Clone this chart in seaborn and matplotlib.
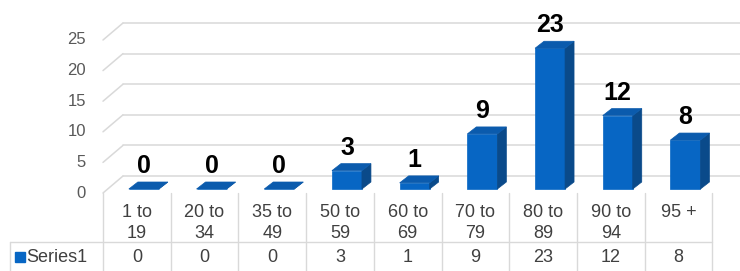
import matplotlib
matplotlib.use("Agg")
import numpy as np
import pandas as pd
import matplotlib.pyplot as plt
from matplotlib.patches import Polygon
import seaborn as sns

sns.set_theme(style="white")
plt.rcParams["font.family"] = ["Liberation Sans", "DejaVu Sans"]

# data
categories = ["1 to 19", "20 to 34", "35 to 49", "50 to 59", "60 to 69",
              "70 to 79", "80 to 89", "90 to 94", "95 +"]
counts = [0, 0, 0, 3, 1, 9, 23, 12, 8]
series_name = "Series1"
y_ticks = [0, 5, 10, 15, 20, 25]

# pixel geometry (figure is 740 x 271 px, 1 unit = 6.12 px, 1 category = 67.7 px)
PX_CAT = 67.7
PX_VAL = 6.12
def cx(px):
    return px / PX_CAT
def cy(px):
    return px / PX_VAL

FRONT_C = "#0766C4"
TOP_C = "#0B5BAD"
SIDE_C = "#0A4A8A"
GRID_C = "#D9D9D9"
TEXT_C = "#404040"

wall_dx, wall_dy = cx(20), cy(17)
bar_dx, bar_dy = cx(9), cy(7)
bar_off_x, bar_off_y = cx(7), cy(4)
n = len(categories)

df = pd.DataFrame({"cat": categories, "count": counts})

fig = plt.figure(figsize=(7.4, 2.71), dpi=100)
ax = fig.add_axes([0, 0, 1, 1])

# back wall gridlines + side wall diagonals
right_edge = -0.5 + cx(637)
for v in y_ticks:
    ax.plot([-0.5, -0.5 + wall_dx], [v, v + wall_dy], color=GRID_C, lw=1.1, zorder=1)
    ax.plot([-0.5 + wall_dx, right_edge], [v + wall_dy, v + wall_dy], color=GRID_C, lw=1.1, zorder=1)
    ax.text(-0.5 - cx(17), v, str(v), ha="right", va="center", fontsize=12, color="#595959")

# front faces via seaborn
sns.barplot(data=df, x="cat", y="count", color=FRONT_C, width=0.443, saturation=1,
            edgecolor=FRONT_C, linewidth=0.5, ax=ax, zorder=3)
for p in ax.patches:
    p.set_x(p.get_x() + bar_off_x)
    p.set_y(bar_off_y)

for p, val in zip(list(ax.patches), counts):
    x0 = p.get_x()
    x1 = x0 + p.get_width()
    base = p.get_y()
    top = base + val
    side = Polygon([(x1, base), (x1 + bar_dx, base + bar_dy), (x1 + bar_dx, top + bar_dy), (x1, top)],
                   closed=True, facecolor=SIDE_C, edgecolor=SIDE_C, lw=0.5, zorder=3)
    topf = Polygon([(x0, top), (x1, top), (x1 + bar_dx, top + bar_dy), (x0 + bar_dx, top + bar_dy)],
                   closed=True, facecolor=TOP_C, edgecolor=TOP_C, lw=0.5, zorder=4)
    ax.add_patch(side)
    ax.add_patch(topf)
    ax.text((x0 + x1) / 2, top + bar_dy + cy(9), str(val), ha="center", va="baseline",
            fontsize=18, fontweight="bold", color="black", zorder=5)

# data table
tbl_bottom = -cy(78)
row_line = -cy(49)
legend_left = -0.5 - cx(93)
for k in range(n + 1):
    ax.plot([-0.5 + k, -0.5 + k], [0, tbl_bottom], color=GRID_C, lw=1.0, zorder=1)
ax.plot([legend_left, n - 0.5], [row_line, row_line], color=GRID_C, lw=1.0, zorder=1)
ax.plot([legend_left, legend_left], [row_line, tbl_bottom], color=GRID_C, lw=1.0, zorder=1)

for i, (c, v) in enumerate(zip(categories, counts)):
    ax.text(i, -cy(11), c.replace(" to ", " to\n"), ha="center", va="top", fontsize=13,
            color=TEXT_C, linespacing=1.3)
    ax.text(i, -cy(65), str(v), ha="center", va="center", fontsize=13, color=TEXT_C)

ax.plot([legend_left + cx(10)], [-cy(64)], marker="s", markersize=7, color=FRONT_C, ls="none")
ax.text(legend_left + cx(16), -cy(65), series_name, ha="left", va="center", fontsize=13, color=TEXT_C)

ax.set_xlim(-0.5 - cx(103), -0.5 + cx(637))
ax.set_ylim(-cy(78), cy(193))
ax.axis("off")

fig.savefig("out.png", dpi=100)
